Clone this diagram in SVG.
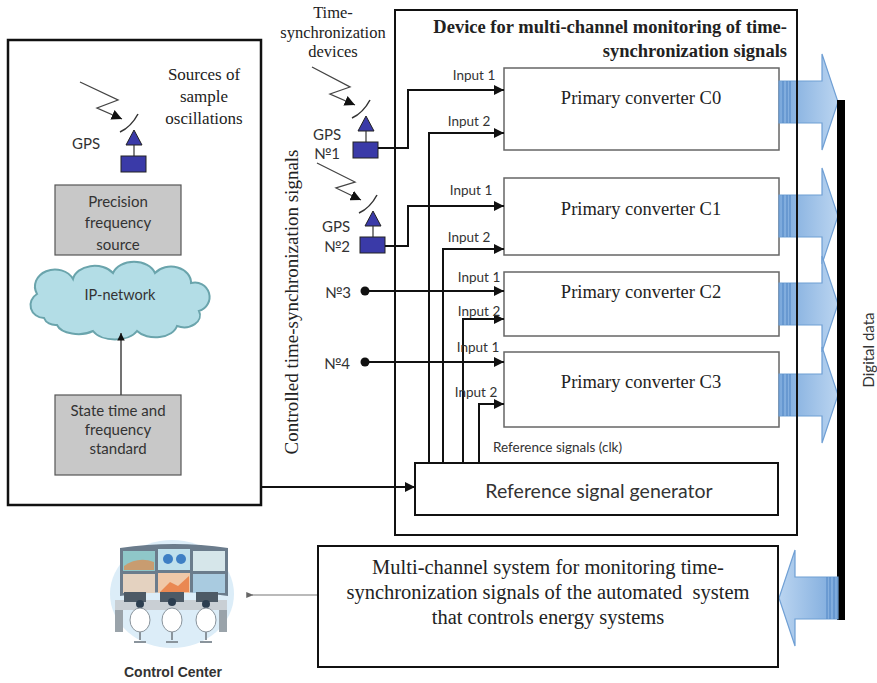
<svg xmlns="http://www.w3.org/2000/svg" width="877" height="683" viewBox="0 0 877 683">
  <style>
    .serif { font-family: "Liberation Serif", "Times New Roman", serif; fill: #222; }
    .sans { font-family: Lato, "Open Sans", sans-serif; fill: #333; }
    .conv { fill: #fff; stroke: #666; stroke-width: 1.5; }
    .grey { fill: #c8c8c8; stroke: #555; stroke-width: 1.2; }
    .wire-a { fill: none; stroke: #111; stroke-width: 2; marker-end: url(#arr); }
    .ant { fill: #3a3aa8; stroke: #222; stroke-width: 1; }
    .zig { fill: none; stroke: #444; stroke-width: 1.3; marker-end: url(#zigarr); }
    .dish { fill: none; stroke: #333; stroke-width: 1.5; }
    .lbl { font-size: 13.5px; }
    .conv-t { font-size: 18.5px; }
    .box-t { font-size: 15px; }
    .gps-t { font-size: 15px; }
  </style>
  <defs>
    <marker id="arr" viewBox="0 0 10 10" refX="10" refY="5" markerWidth="5" markerHeight="5" orient="auto" markerUnits="strokeWidth">
      <path d="M0,0 L10,5 L0,10 Z" fill="#111"/>
    </marker>
    <marker id="zigarr" viewBox="0 0 10 10" refX="10" refY="5" markerWidth="8" markerHeight="8" orient="auto" markerUnits="strokeWidth">
      <path d="M0,0 L10,5 L0,10 Z" fill="#111"/>
    </marker>
    <marker id="thin" viewBox="0 0 10 10" refX="2" refY="5" markerWidth="6" markerHeight="6" orient="auto" markerUnits="strokeWidth">
      <path d="M10,1 L0,5 L10,9 Z" fill="#666"/>
    </marker>
    <linearGradient id="blue" x1="0" y1="0" x2="1" y2="0">
      <stop offset="0" stop-color="#6c9fd8"/>
      <stop offset="1" stop-color="#b3d0ef"/>
    </linearGradient>
    <!-- wide data arrow, tail at x=0, pointing right -->
    <g id="data-arrow">
      <path d="M0,-21 H43 V-48 L59,0 L43,48 V21 H0 Z" fill="url(#blue)" fill-opacity="0.9" stroke="#6f9fd4" stroke-width="1.2"/>
      <path d="M4,-21 V21 M8,-21 V21 M11,-21 V21" stroke="#4f84c4" stroke-width="1"/>
    </g>
    <!-- GPS receiver: dish, antenna triangle, stem and base block -->
    <g id="gps">
      <path class="dish" d="M-1,1 Q10,-4 17,-17"/>
      <path class="ant" d="M13,-1 L21,14 L5,14 Z"/>
      <line x1="13" y1="14" x2="13" y2="25" stroke="#333" stroke-width="1.2"/>
      <rect class="ant" x="0" y="25" width="25" height="16"/>
    </g>
  </defs>

  <rect width="877" height="683" fill="#fff"/>

  <!-- sources of sample oscillations -->
  <g id="sources">
    <rect x="8" y="40" width="253" height="465" fill="none" stroke="#111" stroke-width="2.5"/>
    <text class="serif" font-size="17" text-anchor="middle" x="204" y="80">Sources of</text>
    <text class="serif" font-size="17" text-anchor="middle" x="204" y="102">sample</text>
    <text class="serif" font-size="17" text-anchor="middle" x="204" y="124">oscillations</text>
  </g>

  <g id="gps-main">
    <polyline class="zig" points="80,82 118,100 97,108 122,119"/>
    <use href="#gps" x="121" y="131"/>
    <text class="sans gps-t" text-anchor="middle" x="86" y="149">GPS</text>
  </g>

  <g id="precision-source">
    <rect class="grey" x="55" y="185" width="126" height="70"/>
    <text class="sans box-t" text-anchor="middle" x="118" y="207">Precision</text>
    <text class="sans box-t" text-anchor="middle" x="118" y="228">frequency</text>
    <text class="sans box-t" text-anchor="middle" x="118" y="250">source</text>
  </g>

  <g id="ip-network">
    <path d="M44,318 a14,13 0 0 1 -7,-24 a20,17 0 0 1 36,-15 a22,16 0 0 1 40,-6 a22,16 0 0 1 42,0 a20,16 0 0 1 36,10 a14,14 0 0 1 8,28 a16,12 0 0 1 -22,15 a22,14 0 0 1 -40,5 a24,14 0 0 1 -44,0 a22,12 0 0 1 -36,-6 a12,10 0 0 1 -13,-7 Z" fill="#b3dde6" stroke="#6aa4ac" stroke-width="2"/>
    <text class="sans" font-size="14.5" text-anchor="middle" x="120" y="300">IP-network</text>
  </g>

  <g id="state-standard">
    <rect class="grey" x="55" y="395" width="126" height="80"/>
    <text class="sans box-t" text-anchor="middle" x="118" y="416">State time and</text>
    <text class="sans box-t" text-anchor="middle" x="118" y="435">frequency</text>
    <text class="sans box-t" text-anchor="middle" x="118" y="454">standard</text>
  </g>

  <!-- monitoring device -->
  <g id="device">
    <rect x="395" y="10" width="402" height="525" fill="#fff" stroke="none"/>
    <text class="serif" font-size="18.5" font-weight="bold" text-anchor="end" x="787" y="33">Device for multi-channel monitoring of time-</text>
    <text class="serif" font-size="18.5" font-weight="bold" text-anchor="end" x="787" y="57">synchronization signals</text>
  </g>

  <text class="serif" font-size="16.5" text-anchor="middle" x="333" y="18">Time-</text>
  <text class="serif" font-size="16.5" text-anchor="middle" x="333" y="38">synchronization</text>
  <text class="serif" font-size="16.5" text-anchor="middle" x="333" y="57">devices</text>

  <text class="serif" font-size="19" text-anchor="middle" transform="translate(298,302) rotate(-90)">Controlled time-synchronization signals</text>

  <g id="converter-c0">
    <rect class="conv" x="504" y="68" width="275" height="82"/>
    <text class="serif conv-t" text-anchor="middle" x="641" y="104">Primary converter C0</text>
  </g>
  <g id="converter-c1">
    <rect class="conv" x="504" y="178" width="275" height="77"/>
    <text class="serif conv-t" text-anchor="middle" x="641" y="215">Primary converter C1</text>
  </g>
  <g id="converter-c2">
    <rect class="conv" x="504" y="272" width="275" height="64"/>
    <text class="serif conv-t" text-anchor="middle" x="641" y="298">Primary converter C2</text>
  </g>
  <g id="converter-c3">
    <rect class="conv" x="504" y="352" width="275" height="75"/>
    <text class="serif conv-t" text-anchor="middle" x="641" y="388">Primary converter C3</text>
  </g>

  <g id="reference-generator">
    <rect x="415" y="463" width="363" height="52" fill="#fff" stroke="#111" stroke-width="2"/>
    <text class="sans" font-size="19.5" text-anchor="middle" x="599" y="498" fill="#222">Reference signal generator</text>
  </g>

  <!-- GPS receivers No1 and No2 -->
  <g id="gps-1">
    <polyline class="zig" points="312,67 350,87 330,94 355,105"/>
    <use href="#gps" x="353" y="117"/>
    <text class="sans gps-t" text-anchor="middle" x="327" y="140">GPS</text>
    <text class="sans gps-t" text-anchor="middle" x="327" y="159">№1</text>
  </g>
  <g id="gps-2">
    <polyline class="zig" points="317,163 355,182 336,188 361,200"/>
    <use href="#gps" x="360" y="212"/>
    <text class="sans gps-t" text-anchor="middle" x="336" y="232">GPS</text>
    <text class="sans gps-t" text-anchor="middle" x="337" y="252">№2</text>
  </g>
  <g id="source-3">
    <circle cx="365" cy="291" r="4.5" fill="#111"/>
    <text class="sans gps-t" text-anchor="middle" x="338" y="298">№3</text>
  </g>
  <g id="source-4">
    <circle cx="365" cy="362" r="4.5" fill="#111"/>
    <text class="sans gps-t" text-anchor="middle" x="337" y="369">№4</text>
  </g>

  <!-- signal wiring -->
  <g id="connectors">
    <polyline class="wire-a" points="378,148 408,148 408,90 504,90"/>
    <polyline class="wire-a" points="385,246 408,246 408,206 504,206"/>
    <polyline class="wire-a" points="365,291 504,291"/>
    <polyline class="wire-a" points="365,362 504,362"/>
    <polyline class="wire-a" points="429,463 429,133 504,133"/>
    <polyline class="wire-a" points="443,463 443,249 504,249"/>
    <polyline class="wire-a" points="463,463 463,319 504,319"/>
    <polyline class="wire-a" points="479,463 479,404 504,404"/>
    <polyline class="wire-a" points="261,487 415,487"/>
    <line x1="121" y1="395" x2="121" y2="333" stroke="#444" stroke-width="1.5" marker-end="url(#arr)"/>
    <line x1="317" y1="595" x2="252" y2="595" stroke="#777" stroke-width="1.2" marker-end="url(#thin)"/>
  </g>

  <g id="input-labels">
    <text class="sans lbl" text-anchor="middle" x="474" y="80">Input 1</text>
    <text class="sans lbl" text-anchor="middle" x="469" y="126">Input 2</text>
    <text class="sans lbl" text-anchor="middle" x="471" y="195">Input 1</text>
    <text class="sans lbl" text-anchor="middle" x="469" y="242">Input 2</text>
    <text class="sans lbl" text-anchor="middle" x="479" y="282">Input 1</text>
    <text class="sans lbl" text-anchor="middle" x="479" y="316">Input 2</text>
    <text class="sans lbl" text-anchor="middle" x="478" y="352">Input 1</text>
    <text class="sans lbl" text-anchor="middle" x="476" y="397">Input 2</text>
    <text class="sans lbl" font-size="14" x="493" y="452">Reference signals (clk)</text>
  </g>

  <!-- digital data bus -->
  <g id="data-bus">
    <use href="#data-arrow" transform="translate(779,102)"/>
    <use href="#data-arrow" transform="translate(779,216)"/>
    <use href="#data-arrow" transform="translate(779,304)"/>
    <use href="#data-arrow" transform="translate(779,395)"/>
    <rect x="837" y="100" width="8" height="520" fill="#000"/>
    <use href="#data-arrow" transform="translate(838,598) scale(-1,1)"/>
    <text class="sans" font-size="15" text-anchor="middle" transform="translate(874,350) rotate(-90)" fill="#222">Digital data</text>
  </g>

  <!-- device frame drawn over the data arrows -->
  <rect x="395" y="10" width="402" height="525" fill="none" stroke="#111" stroke-width="2"/>

  <g id="monitoring-system">
    <rect x="318" y="546" width="460" height="121" fill="#fff" stroke="#111" stroke-width="2"/>
    <text class="serif" font-size="20.5" text-anchor="middle" x="548" y="574">Multi-channel system for monitoring time-</text>
    <text class="serif" font-size="20.5" text-anchor="middle" x="548" y="599">synchronization signals of the automated&#160; system</text>
    <text class="serif" font-size="20.5" text-anchor="middle" x="548" y="624">that controls energy systems</text>
  </g>

  <!-- control room illustration -->
  <g id="control-center">
    <ellipse cx="172" cy="594" rx="62" ry="54" fill="#dcedf8"/>
    <path d="M120,548 Q174,540 228,548 L228,596 Q174,588 120,596 Z" fill="#6b7c8c"/>
    <rect x="123" y="551" width="32" height="20" fill="#8fc7c9"/>
    <rect x="158" y="549" width="32" height="21" fill="#bfe0ec"/>
    <rect x="193" y="551" width="32" height="20" fill="#d6e6ea"/>
    <rect x="123" y="574" width="32" height="19" fill="#e4d2c0"/>
    <rect x="158" y="573" width="32" height="20" fill="#f0c8a8"/>
    <rect x="193" y="574" width="32" height="19" fill="#a9cbe0"/>
    <path d="M124,566 Q138,556 154,562 L154,570 L124,570 Z" fill="#e08a4a" opacity="0.7"/>
    <circle cx="168" cy="559" r="5" fill="#3e7fc4"/>
    <circle cx="181" cy="559" r="5" fill="#3e7fc4"/>
    <path d="M160,592 L170,582 L178,586 L189,576 L189,592 Z" fill="#e9783c" opacity="0.8"/>
    <rect x="115" y="600" width="112" height="10" fill="#c9cfd4"/>
    <rect x="115" y="610" width="8" height="22" fill="#9aa3aa"/>
    <rect x="219" y="610" width="8" height="22" fill="#9aa3aa"/>
    <rect x="124" y="592" width="22" height="10" fill="#4d5a66"/>
    <rect x="160" y="592" width="24" height="10" fill="#4d5a66"/>
    <rect x="196" y="592" width="22" height="10" fill="#4d5a66"/>
    <circle cx="140" cy="604" r="4" fill="#2c3e50"/>
    <circle cx="172" cy="602" r="4" fill="#2c3e50"/>
    <circle cx="206" cy="604" r="4" fill="#2c3e50"/>
    <ellipse cx="140" cy="620" rx="10" ry="12" fill="#fff" stroke="#8a949c"/>
    <ellipse cx="172" cy="620" rx="10" ry="12" fill="#fff" stroke="#8a949c"/>
    <ellipse cx="206" cy="620" rx="10" ry="12" fill="#fff" stroke="#8a949c"/>
    <path d="M140,632 V640 M134,642 H146 M172,632 V640 M166,642 H178 M206,632 V640 M200,642 H212" stroke="#8a949c" stroke-width="2"/>
    <text font-family="Liberation Sans, Arial, sans-serif" font-weight="bold" font-size="14" fill="#333" text-anchor="middle" x="173" y="677">Control Center</text>
  </g>
</svg>
